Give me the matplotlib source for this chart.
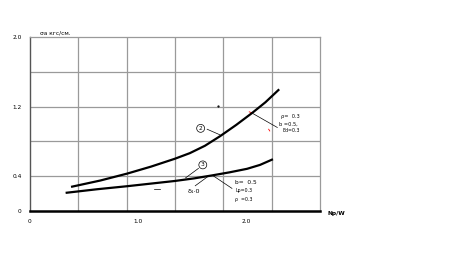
import matplotlib
matplotlib.use("Agg")
import matplotlib.pyplot as plt
import numpy as np

# curve 2 (upper) and curve 3 (lower)
x_curve2 = [0.39, 0.65, 0.90, 1.12, 1.34, 1.48, 1.62, 1.76, 1.91, 2.06, 2.18, 2.30]
y_curve2 = [0.28, 0.35, 0.43, 0.51, 0.60, 0.665, 0.75, 0.86, 0.99, 1.13, 1.25, 1.39]
x_curve3 = [0.34, 0.62, 0.90, 1.12, 1.34, 1.52, 1.69, 1.85, 2.01, 2.13, 2.24]
y_curve3 = [0.21, 0.25, 0.285, 0.315, 0.345, 0.375, 0.41, 0.445, 0.485, 0.53, 0.59]

y_ticks = [0, 0.4, 1.2, 2.0]
y_ticklabels = ["0", "0.4", "1.2", "2.0"]
x_ticks = [0, 1.0, 2.0]
x_ticklabels = ["0", "1.0", "2.0"]

W, H = 459, 259
fig = plt.figure(figsize=(W / 100, H / 100), dpi=100)
ax = fig.add_axes([30 / W, (H - 211) / H, 290 / W, 174 / H])

XMAX = 290 / 108
ax.set_xlim(0, XMAX)
ax.set_ylim(0, 2.0)

# grid
for gx in np.linspace(0, XMAX, 7)[1:-1]:
    ax.axvline(gx, color="#9a9a9a", lw=0.9, zorder=1)
for gy in np.arange(0.4, 2.0, 0.4):
    ax.axhline(gy, color="#9a9a9a", lw=0.9, zorder=1)

for side in ("top", "right"):
    ax.spines[side].set_color("#9a9a9a")
    ax.spines[side].set_linewidth(0.9)
ax.spines["left"].set_color("#555555")
ax.spines["left"].set_linewidth(1.0)
ax.spines["bottom"].set_color("black")
ax.spines["bottom"].set_linewidth(1.8)

ax.set_xticks(x_ticks)
ax.set_xticklabels(x_ticklabels)
ax.set_yticks(y_ticks)
ax.set_yticklabels(y_ticklabels)
ax.tick_params(length=0, labelsize=4.2, pad=6)

ax.plot(x_curve2, y_curve2, color="black", lw=1.6, zorder=3,
        solid_joinstyle="round")
ax.plot(x_curve3, y_curve3, color="black", lw=1.6, zorder=3,
        solid_joinstyle="round")

# axis captions
fig.text(40 / W, 1 - 33 / H, "σа кгс/см.", fontsize=4.2, va="center", ha="left")
fig.text(327 / W, 1 - 214 / H, "Np/W", fontsize=4.2, va="center", ha="left",
         fontweight="bold")

# curve markers
fs = 4.2
ax.text(1.58, 0.95, "2", fontsize=fs, ha="center", va="center",
        bbox=dict(boxstyle="circle,pad=0.25", fc="white", ec="black", lw=0.5))
ax.plot([1.64, 1.76], [0.94, 0.875], color="black", lw=0.5)
ax.text(1.60, 0.53, "3", fontsize=fs, ha="center", va="center",
        bbox=dict(boxstyle="circle,pad=0.25", fc="white", ec="black", lw=0.5))
ax.plot([1.56, 1.44], [0.49, 0.38], color="black", lw=0.5)

ax.text(1.46, 0.22, "δ₁·0", fontsize=4.6, ha="left", va="center")
ax.plot([1.53, 1.64], [0.29, 0.39], color="black", lw=0.5)
ax.plot([1.15, 1.20], [0.25, 0.25], color="black", lw=0.5)

# parameter labels for curve 2
ax.plot([2.05, 2.29], [1.13, 0.96], color="black", lw=0.5)
ax.plot([2.03, 2.05], [1.14, 1.13], color="red", lw=0.6)
ax.plot([2.21, 2.22], [0.94, 0.92], color="red", lw=0.6)
ax.plot([1.74], [1.21], marker=".", color="black", ms=1.2)
ax.text(2.32, 1.09, "ρ=  0.3", fontsize=3.6, ha="left", va="center")
ax.text(2.31, 1.00, "b =0.5,", fontsize=3.6, ha="left", va="center")
ax.text(2.34, 0.92, "Ed=0.3", fontsize=3.4, ha="left", va="center")

# parameter labels for curve 3
ax.plot([1.69, 1.87], [0.41, 0.26], color="black", lw=0.5)
ax.text(1.90, 0.33, "b=  0.5", fontsize=4.2, ha="left", va="center")
ax.text(1.90, 0.23, "Lp=0.3", fontsize=3.4, ha="left", va="center")
ax.text(1.90, 0.13, "ρ  =0.3", fontsize=3.4, ha="left", va="center")

fig.savefig("out.png", dpi=100)
